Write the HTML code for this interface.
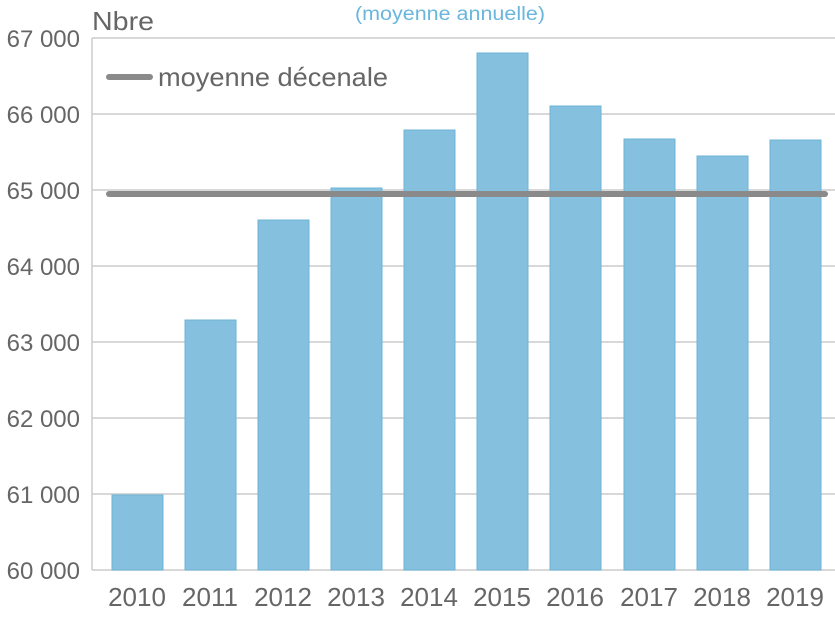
<!DOCTYPE html>
<html><head><style>
body{margin:0;background:#fff}
svg text{font-family:"Liberation Sans",sans-serif;fill:#666}
</style></head><body>
<svg width="835" height="625" xmlns="http://www.w3.org/2000/svg">
<g stroke="#ccc" stroke-width="1.5">
<line x1="92" y1="38" x2="835" y2="38"/><line x1="92" y1="114" x2="835" y2="114"/>
<line x1="92" y1="190" x2="835" y2="190"/><line x1="92" y1="266" x2="835" y2="266"/>
<line x1="92" y1="342" x2="835" y2="342"/><line x1="92" y1="418" x2="835" y2="418"/>
<line x1="92" y1="494" x2="835" y2="494"/><line x1="92" y1="570" x2="835" y2="570"/>
<line x1="92" y1="38" x2="92" y2="570"/>
</g>
<g fill="#85c1de" stroke="#6db4d8" stroke-width="1">
<rect x="112" y="495" width="51" height="75"/>
<rect x="185" y="320" width="51" height="250"/>
<rect x="258" y="220" width="51" height="350"/>
<rect x="331" y="188" width="51" height="382"/>
<rect x="404" y="130" width="51" height="440"/>
<rect x="477" y="53" width="51" height="517"/>
<rect x="550" y="106" width="51" height="464"/>
<rect x="624" y="139" width="51" height="431"/>
<rect x="697" y="156" width="51" height="414"/>
<rect x="770" y="140" width="51" height="430"/>
</g>
<line x1="109" y1="194" x2="825" y2="194" stroke="#8a8a8a" stroke-width="6" stroke-linecap="round"/>
<line x1="109" y1="77" x2="150" y2="77" stroke="#8a8a8a" stroke-width="6" stroke-linecap="round"/>
<text x="158" y="86" font-size="26" textLength="230" lengthAdjust="spacingAndGlyphs">moyenne décenale</text>
<text x="92" y="30" font-size="26" textLength="62" lengthAdjust="spacingAndGlyphs">Nbre</text>
<text x="355" y="20" font-size="19" style="fill:#6ab6dc" textLength="190" lengthAdjust="spacingAndGlyphs">(moyenne annuelle)</text>
<g font-size="24" text-anchor="end">
<text x="80" y="47">67 000</text><text x="80" y="123">66 000</text>
<text x="80" y="199">65 000</text><text x="80" y="275">64 000</text>
<text x="80" y="351">63 000</text><text x="80" y="427">62 000</text>
<text x="80" y="503">61 000</text><text x="80" y="579">60 000</text>
</g>
<g font-size="26" text-anchor="middle">
<text x="137" y="606">2010</text><text x="210" y="606">2011</text>
<text x="283" y="606">2012</text><text x="356" y="606">2013</text>
<text x="429" y="606">2014</text><text x="502" y="606">2015</text>
<text x="575" y="606">2016</text><text x="649" y="606">2017</text>
<text x="722" y="606">2018</text><text x="795" y="606">2019</text>
</g>
</svg>
</body></html>
